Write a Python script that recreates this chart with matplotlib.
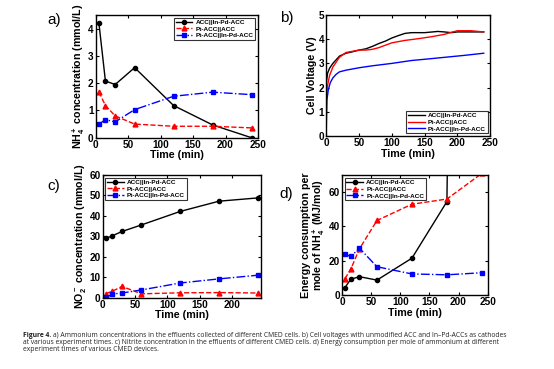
import matplotlib.pyplot as plt

plt.rcParams['font.family'] = ['Liberation Sans', 'DejaVu Sans']
plt.rcParams['font.weight'] = 'bold'
plt.rcParams['mathtext.fontset'] = 'custom'
plt.rcParams['mathtext.rm'] = 'Liberation Sans:bold'
plt.rcParams['mathtext.it'] = 'Liberation Sans:bold'
plt.rcParams['mathtext.bf'] = 'Liberation Sans:bold'

# Datos
t = [5, 15, 30, 60, 120, 180, 240]
labels = ['ACC||In-Pd-ACC', 'Pt-ACC||ACC', 'Pt-ACC||In-Pd-ACC']

nh4_acc = [4.2, 2.08, 1.95, 2.57, 1.18, 0.47, 0.0]
nh4_pt = [1.68, 1.18, 0.8, 0.5, 0.42, 0.42, 0.36]
nh4_ptinpd = [0.5, 0.66, 0.58, 1.03, 1.52, 1.67, 1.58]

no2_acc = [29.0, 30.3, 32.4, 35.6, 42.2, 47.2, 48.8]
no2_pt = [2.0, 3.2, 5.5, 1.9, 2.4, 2.5, 2.3]
no2_ptinpd = [0.2, 1.8, 2.3, 3.8, 7.2, 9.2, 11.0]

en_acc = [4.3, 9.2, 10.7, 8.7, 21.5, 54.5, 1500.0]
en_pt = [9.5, 15.0, 27.0, 43.5, 53.0, 56.0, 71.0]
en_ptinpd = [23.8, 22.5, 27.3, 16.5, 12.3, 11.8, 13.0]

# Voltaje de celda
tv_acc = [0, 2, 5, 10, 20, 30, 40, 50, 60, 70, 80, 90, 100, 110, 120, 130, 150,
          170, 180, 190, 200, 220, 240]
v_acc = [2.2, 2.6, 2.8, 3.0, 3.3, 3.42, 3.48, 3.55, 3.6, 3.7, 3.82, 3.92, 4.05,
         4.15, 4.24, 4.27, 4.27, 4.32, 4.3, 4.27, 4.3, 4.3, 4.3]
tv_pt = [0, 2, 5, 10, 20, 30, 40, 50, 60, 70, 80, 90, 100, 120, 140, 160, 180,
         190, 200, 220, 240]
v_pt = [1.5, 2.1, 2.5, 2.85, 3.25, 3.45, 3.5, 3.55, 3.55, 3.58, 3.65, 3.75,
        3.85, 3.95, 4.02, 4.1, 4.2, 4.28, 4.35, 4.35, 4.3]
tv_ptinpd = [0, 1, 3, 6, 10, 15, 20, 30, 50, 70, 100, 120, 130, 150, 180, 210, 240]
v_ptinpd = [0.4, 1.5, 1.9, 2.2, 2.4, 2.55, 2.65, 2.72, 2.82, 2.9, 3.0, 3.08,
            3.12, 3.17, 3.25, 3.33, 3.42]

fig = plt.figure(figsize=(5.54, 3.69), dpi=100)

estilos = [dict(color='black', linestyle='-', marker='o', markersize=3),
           dict(color='red', linestyle='--', marker='^', markersize=3.5),
           dict(color='blue', linestyle='-.', marker='s', markersize=2.6)]


def formato(ax):
    ax.tick_params(direction='in', labelsize=7.2, width=0.8, length=2.5,
                   pad=1.5, top=True, right=True)
    for s in ax.spines.values():
        s.set_linewidth(1.0)
    for lab in ax.get_xticklabels() + ax.get_yticklabels():
        lab.set_fontweight('bold')
    ax.set_xlabel('Time (min)', fontsize=7.7, fontweight='bold', labelpad=0.5)


def leyenda(ax, loc):
    leg = ax.legend(loc=loc, fontsize=4.6, frameon=True, fancybox=False,
                    edgecolor='black', handlelength=2.6, borderpad=0.3,
                    labelspacing=0.2, handletextpad=0.5, borderaxespad=0.4)
    leg.get_frame().set_linewidth(0.8)
    for txt in leg.get_texts():
        txt.set_fontweight('bold')


# a)
ax1 = fig.add_axes([0.1727, 0.6268, 0.293, 0.3325])
for y, lab, st in zip([nh4_acc, nh4_pt, nh4_ptinpd], labels, estilos):
    ax1.plot(t, y, label=lab, linewidth=1, **st)
ax1.set_xlim(0, 250)
ax1.set_ylim(0, 4.5)
ax1.set_xticks([0, 50, 100, 150, 200, 250])
ax1.set_yticks([0, 1, 2, 3, 4])
ax1.set_ylabel('NH$_4^+$ concentration (mmol/L)', fontsize=7.7,
               fontweight='bold', labelpad=1)
formato(ax1)
leyenda(ax1, 'upper right')

# b)
ax2 = fig.add_axes([0.589, 0.6314, 0.296, 0.328])
ax2.plot(tv_acc, v_acc, color='black', linewidth=1, label=labels[0])
ax2.plot(tv_pt, v_pt, color='red', linewidth=1, label=labels[1])
ax2.plot(tv_ptinpd, v_ptinpd, color='blue', linewidth=1, label=labels[2])
ax2.set_xlim(0, 250)
ax2.set_ylim(0, 5)
ax2.set_xticks([0, 50, 100, 150, 200, 250])
ax2.set_ylabel('Cell Voltage (V)', fontsize=7.7, fontweight='bold', labelpad=1)
formato(ax2)
leyenda(ax2, 'lower right')

# c)
ax3 = fig.add_axes([0.1854, 0.1932, 0.2857, 0.3325])
for y, lab, st in zip([no2_acc, no2_pt, no2_ptinpd], labels, estilos):
    ax3.plot(t, y, label=lab, linewidth=1, **st)
ax3.set_xlim(0, 245)
ax3.set_ylim(0, 60)
ax3.set_xticks([0, 50, 100, 150, 200])
ax3.set_ylabel('NO$_2^-$ concentration (mmol/L)', fontsize=7.7,
               fontweight='bold', labelpad=1)
formato(ax3)
leyenda(ax3, 'upper left')

# d)
ax4 = fig.add_axes([0.6173, 0.2005, 0.263, 0.325])
for y, lab, st in zip([en_acc, en_pt, en_ptinpd], labels, estilos):
    ax4.plot(t, y, label=lab, linewidth=1, **st)
ax4.set_xlim(0, 250)
ax4.set_ylim(0, 70)
ax4.set_xticks([0, 50, 100, 150, 200, 250])
ax4.set_ylabel('Energy consumption per\nmole of NH$_4^+$ (MJ/mol)',
               fontsize=7.7, fontweight='bold', labelpad=1, linespacing=1.0)
formato(ax4)
leyenda(ax4, 'upper left')

# Etiquetas de panel
for x, y, s in [(0.085, 0.945, 'a)'), (0.505, 0.95, 'b)'),
                (0.085, 0.495, 'c)'), (0.505, 0.475, 'd)')]:
    fig.text(x, y, s, fontsize=11, fontweight='normal', va='center')

# Pie de figura
cap_font = ['Open Sans', 'DejaVu Sans']
cap_size = 4.85
fig.canvas.draw()
r = fig.canvas.get_renderer()
t0 = fig.text(0.041, 0.09, 'Figure 4.', fontsize=cap_size, fontweight='bold',
              family=cap_font, va='center', color='#222222')
bb = t0.get_window_extent(renderer=r)
x_next = (bb.x1 + 2) / fig.bbox.width
fig.text(x_next, 0.09,
         'a) Ammonium concentrations in the effluents collected of different CMED cells. '
         'b) Cell voltages with unmodified ACC and In\u2013Pd-ACCs as cathodes',
         fontsize=cap_size, fontweight='normal', family=cap_font, va='center',
         color='#222222')
fig.text(0.041, 0.071,
         'at various experiment times. c) Nitrite concentration in the effluents of different '
         'CMED cells. d) Energy consumption per mole of ammonium at different',
         fontsize=cap_size, fontweight='normal', family=cap_font, va='center',
         color='#222222')
fig.text(0.041, 0.053, 'experiment times of various CMED devices.',
         fontsize=cap_size, fontweight='normal', family=cap_font, va='center',
         color='#222222')

plt.savefig('out.png', dpi=100)
